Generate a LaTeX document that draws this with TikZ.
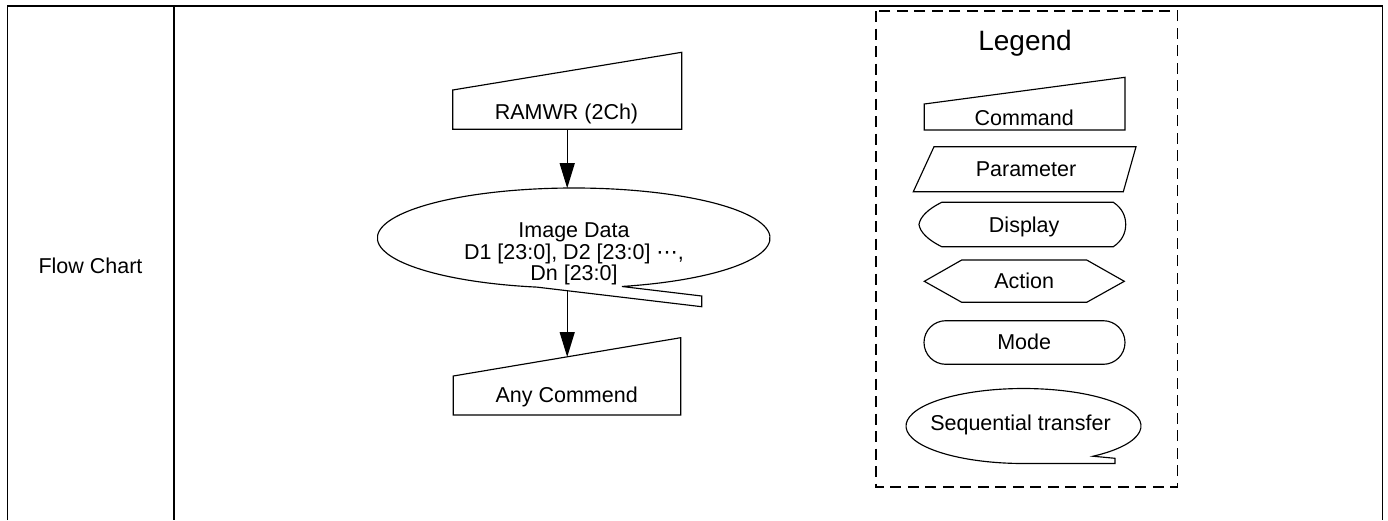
\documentclass[tikz,border=0pt]{standalone}
\usepackage{fontspec}
\setmainfont{Liberation Sans}
\newfontfamily\dejavu{DejaVu Sans}
\usetikzlibrary{arrows.meta,calc}
\begin{document}
\begin{tikzpicture}[x=1pt,y=-1pt,
  frame/.style={line width=1.9pt},
  shp/.style={draw, line width=1.15pt, line join=miter},
  txt/.style={font=\fontsize{21.5}{21.7}\selectfont, inner sep=0pt, align=center},
  flow/.style={line width=1.3pt, -{Triangle[length=25pt,width=15pt]}},
  legendbox/.style={line width=1.6pt, dash pattern=on 11pt off 6.5pt}
  ]
\useasboundingbox (0,0) rectangle (1388,520);
\fill[white] (0,0) rectangle (1388,520);
% table frame
\draw[frame, line join=miter] (7.5,520) -- (7.5,6) -- (1382.5,6) -- (1382.5,520);
\draw[frame] (174,6) -- (174,520);
\node[txt, anchor=base] (label) at (90.5,273.3) {Flow Chart};

% flow chart
\draw[shp] (452.7,129.3) -- (452.7,90) -- (681.7,52.3) -- (681.7,129.3) -- cycle;
\node[txt, anchor=base] (ramwr) at (566.5,119) {RAMWR (2Ch)};
\coordinate (ramwrB) at (567.2,129.3);

\coordinate (dc) at (573.7,238);
\draw[shp] ($(dc)+(-75.8:196.3pt and 50pt)$) arc[start angle=-75.8, end angle=259.2, x radius=196.3pt, y radius=50pt]
  -- (701.7,306.7) -- (701.7,296) -- cycle;
\node[txt] (data) at (574,254) {Image Data\\D1 [23:0], D2 [23:0] {\dejavu ⋯},\\Dn [23:0]};
\coordinate (dtop) at (567.2,188.2);
\coordinate (dbot) at (567.2,290.7);

\draw[shp] (453.3,415) -- (453.3,376) -- (680.7,337.7) -- (680.7,415) -- cycle;
\node[txt, anchor=base] (anycmd) at (566.7,402.7) {Any Commend};
\coordinate (atop) at (567.2,357);

\draw[flow] (ramwrB) -- (dtop);
\draw[flow] (dbot) -- (atop);

% legend
\draw[legendbox] (876,11) rectangle (1177.3,486.7);
\node[font=\fontsize{28}{30}\selectfont, inner sep=0pt, anchor=base] (legend) at (1025,50) {Legend};

\draw[shp] (924.3,130) -- (924.3,104) -- (1125,77.3) -- (1125,130) -- cycle;
\node[txt, anchor=base] (command) at (1024.2,125) {Command};

\draw[shp] (934,146.7) -- (1136,146.7) -- (1123.3,191.7) -- (913.3,191.7) -- cycle;
\node[txt, anchor=base] (parameter) at (1026,176.7) {Parameter};

\draw[shp] (941.7,202.3) -- (1113.3,202.3)
  .. controls (1122,208) and (1125.7,216) .. (1125.7,224.5)
  .. controls (1125.7,233) and (1122,241) .. (1113.3,246.7)
  -- (941.7,246.7)
  .. controls (928,240) and (920,232) .. (919,224.5)
  .. controls (920,217) and (928,209) .. (941.7,202.3) -- cycle;
\node[txt, anchor=base] (display) at (1024.2,232.3) {Display};

\draw[shp] (924.3,281.3) -- (961.7,260) -- (1086.7,260) -- (1124.3,281.3) -- (1086.7,302.3) -- (961.7,302.3) -- cycle;
\node[txt, anchor=base] (action) at (1024.2,288.3) {Action};

\draw[shp, rounded corners=21.8pt] (924,320.7) rectangle (1125,364.3);
\node[txt, anchor=base] (mode) at (1024.2,349) {Mode};

\coordinate (sc) at (1023.5,426);
\draw[shp] ($(sc)+(-53.7:117.5pt and 37.5pt)$) arc[start angle=-53.7, end angle=270, x radius=117.5pt, y radius=37.5pt]
  -- (1115,463.5) -- (1115,458.3) -- cycle;
\node[txt, anchor=base] (seq) at (1020.5,430) {Sequential transfer};
\end{tikzpicture}
\end{document}
